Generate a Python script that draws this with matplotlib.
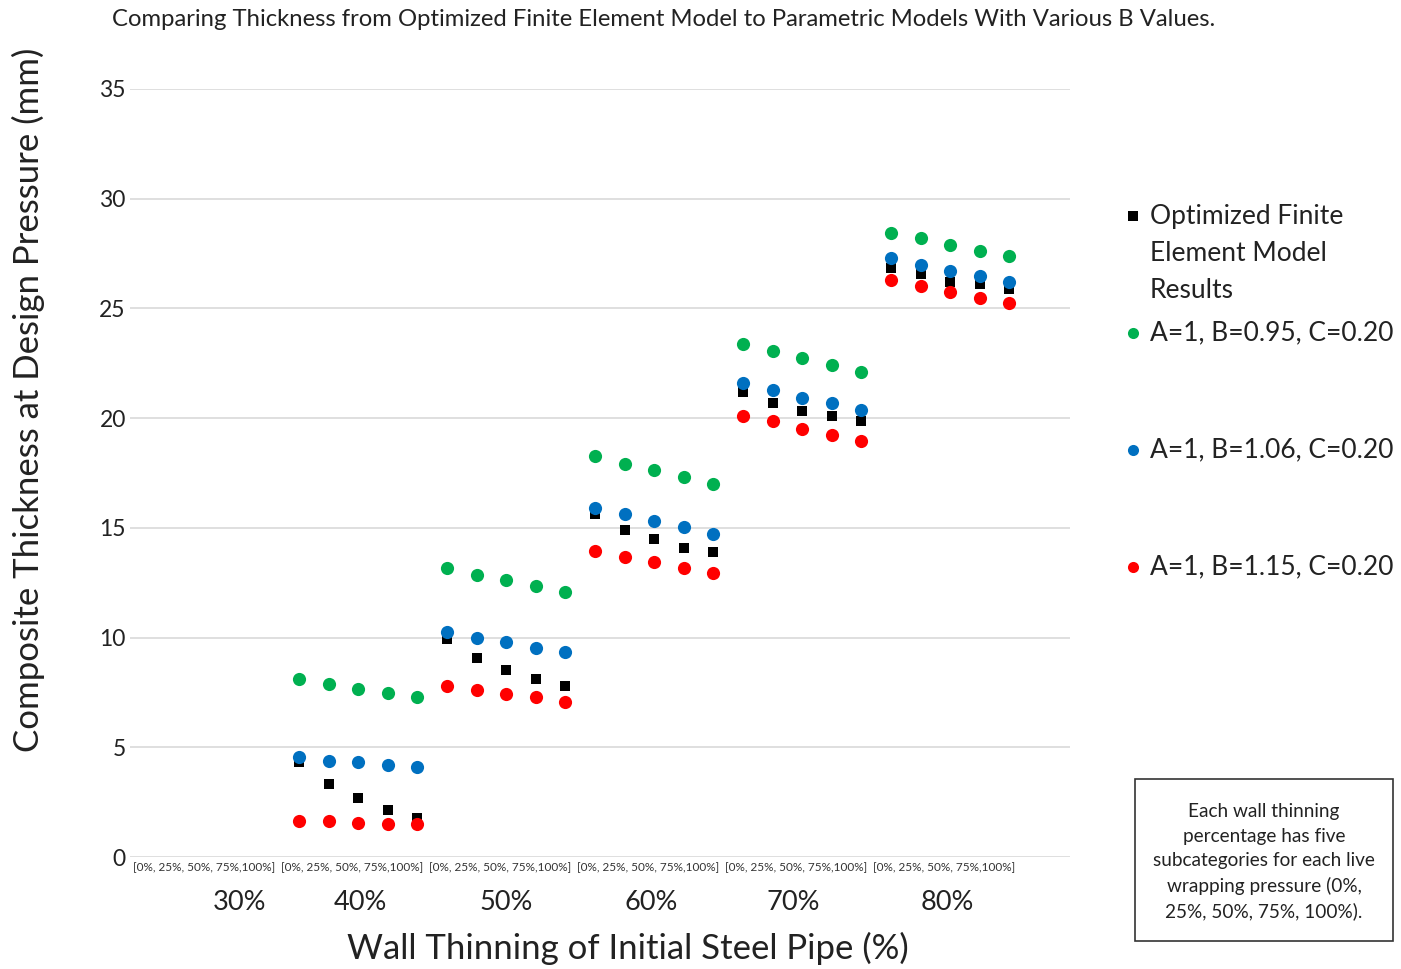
import matplotlib
matplotlib.use("Agg")
import matplotlib.pyplot as plt
import numpy as np
from matplotlib.patches import Rectangle

plt.rcParams['font.family'] = ['Lato', 'DejaVu Sans']

# wall thinning groups and the five live wrapping pressures in each
wall_labels = ['30%', '40%', '50%', '60%', '70%', '80%']
sub_label = '[0%, 25%, 50%, 75%,100%]'
data_groups = ['40%', '50%', '60%', '70%', '80%']

# Optimized finite element model results (mm)
fem = [4.32, 3.31, 2.68, 2.14, 1.76,
       9.92, 9.08, 8.52, 8.12, 7.79,
       15.62, 14.92, 14.48, 14.07, 13.90,
       21.19, 20.69, 20.33, 20.11, 19.87,
       26.86, 26.56, 26.21, 26.12, 25.88]
# A=1, B=0.95, C=0.20
b095 = [8.11, 7.87, 7.66, 7.48, 7.28,
        13.19, 12.87, 12.61, 12.37, 12.09,
        18.26, 17.93, 17.63, 17.30, 16.99,
        23.38, 23.06, 22.74, 22.42, 22.11,
        28.45, 28.20, 27.88, 27.62, 27.38]
# A=1, B=1.06, C=0.20
b106 = [4.56, 4.39, 4.34, 4.19, 4.09,
        10.26, 9.98, 9.80, 9.54, 9.34,
        15.91, 15.65, 15.31, 15.04, 14.74,
        21.62, 21.27, 20.93, 20.69, 20.37,
        27.32, 26.98, 26.72, 26.48, 26.22]
# A=1, B=1.15, C=0.20
b115 = [1.63, 1.63, 1.56, 1.52, 1.50,
        7.79, 7.60, 7.42, 7.29, 7.08,
        13.96, 13.69, 13.43, 13.19, 12.93,
        20.10, 19.86, 19.52, 19.22, 18.96,
        26.31, 26.03, 25.75, 25.49, 25.23]

series = [
    ('Optimized Finite\nElement Model\nResults', fem, '#000000', 's', 50),
    ('A=1, B=0.95, C=0.20', b095, '#00B050', 'o', 90),
    ('A=1, B=1.06, C=0.20', b106, '#0070C0', 'o', 90),
    ('A=1, B=1.15, C=0.20', b115, '#FF0000', 'o', 90),
]

# category slots: 6 groups of 5, data sits in groups 2..6
x = np.arange(5, 5 + len(fem))

W, H = 1401, 969
fig = plt.figure(figsize=(W / 100, H / 100), dpi=100)
ax = fig.add_axes([130 / W, 1 - 857 / H, 940 / W, (857 - 89) / H])

for name, vals, col, mk, sz in series:
    ax.scatter(x, vals, s=sz, marker=mk, color=col, linewidths=0, zorder=3)

ax.set_xlim(-0.71, 31.05)
ax.set_ylim(0, 35)
ax.set_yticks(np.arange(0, 36, 5))
ax.grid(axis='y', color='#d9d9d9', lw=1.2)
ax.set_axisbelow(True)
for s in ['top', 'right', 'left', 'bottom']:
    ax.spines[s].set_visible(False)
ax.tick_params(axis='y', length=0, labelsize=16.5, pad=3, labelcolor='#222222')

# big wall thinning labels (major) and the sub-category brackets (minor)
ax.set_xticks([3.0, 7.06, 12.0, 16.9, 21.7, 26.9])
ax.set_xticklabels(wall_labels)
ax.set_xticks([5 * g + 1.8 for g in range(6)], minor=True)
ax.set_xticklabels([sub_label] * 6, minor=True)
ax.tick_params(axis='x', which='major', length=0, labelsize=19.5, pad=24, labelcolor='#222222')
ax.tick_params(axis='x', which='minor', length=0, labelsize=8.5, pad=4, labelcolor='#333333')

ax.set_xlabel('Wall Thinning of Initial Steel Pipe (%)', fontsize=25, color='#222222')
ax.xaxis.set_label_coords(0.53, -0.097)
ax.set_ylabel('Composite Thickness at Design Pressure (mm)', fontsize=25, color='#222222',
              va='center')
ax.yaxis.set_label_coords(-0.1085, 0.595)

fig.text(112 / W, 1 - 20 / H,
         'Comparing Thickness from Optimized Finite Element Model to Parametric Models With Various B Values.',
         fontsize=17.2, ha='left', va='center', color='#222222')

# legend drawn by hand to follow the spread-out layout
leg_y = [216, 333, 450, 567]
for (name, vals, col, mk, sz), yy in zip(series, leg_y):
    fig.add_artist(plt.Line2D([1133 / W], [1 - yy / H], marker=mk, color=col,
                              markersize=7 if mk == 's' else 8, lw=0,
                              markeredgewidth=0, transform=fig.transFigure))
    if '\n' in name:
        fig.text(1150 / W, 1 - (yy - 12) / H, name, fontsize=19, ha='left', va='top',
                 linespacing=1.59, color='#222222')
    else:
        fig.text(1150 / W, 1 - yy / H, name, fontsize=19, ha='left', va='center',
                 color='#222222')

# note box
fig.add_artist(Rectangle((1135 / W, 1 - 941 / H), 258 / W, 162 / H, fill=False,
                         edgecolor='#333333', lw=1.2, transform=fig.transFigure))
fig.text(1264 / W, 1 - 862 / H,
         'Each wall thinning\npercentage has five\nsubcategories for each live\n'
         'wrapping pressure (0%,\n25%, 50%, 75%, 100%).',
         fontsize=13.7, ha='center', va='center', linespacing=1.52, color='#222222')

fig.savefig('out.png', dpi=100)
